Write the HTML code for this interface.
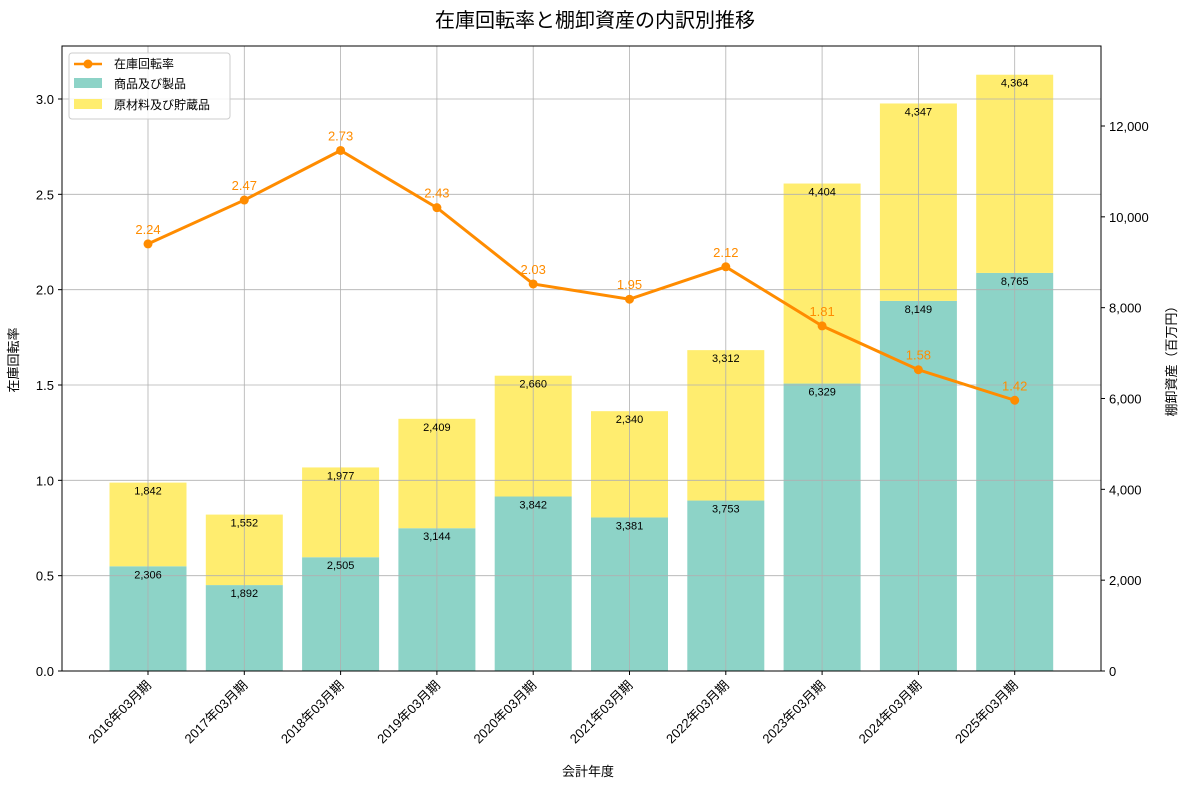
<!DOCTYPE html>
<html><head><meta charset="utf-8"><style>
body{margin:0;background:#fff;font-family:"Liberation Sans","Noto Sans CJK JP",sans-serif;}
svg text{font-family:"Liberation Sans","Noto Sans CJK JP",sans-serif;}
</style></head><body>
<svg id="chart" width="1189" height="789" xmlns="http://www.w3.org/2000/svg">
<text x="595" y="27" text-anchor="middle" font-size="20">在庫回転率と棚卸資産の内訳別推移</text>
<g id="grid"></g>
<g id="bars"></g>
<g id="gridtop"></g>
<g id="line"></g>
<g id="axes"></g>
<text transform="translate(18,360) rotate(-90)" text-anchor="middle" font-size="13">在庫回転率</text>
<text transform="translate(1176,358) rotate(-90)" text-anchor="middle" font-size="13">棚卸資産（百万円）</text>
<text x="588" y="776" text-anchor="middle" font-size="13">会計年度</text>
<g>
<rect x="69" y="53" width="161" height="66" rx="3" fill="#fff" fill-opacity="0.85" stroke="#ccc"/>
<g><line x1="74" y1="64" x2="102" y2="64" stroke="#ff8c00" stroke-width="2.5"/><circle cx="88" cy="64" r="4.5" fill="#ff8c00"/><text x="114" y="68" font-size="12">在庫回転率</text></g>
<g><rect x="74" y="78" width="28" height="10" fill="#8dd3c7"/><text x="114" y="88" font-size="12">商品及び製品</text></g>
<g><rect x="74" y="99" width="28" height="10" fill="#ffed6f"/><text x="114" y="109" font-size="12">原材料及び貯蔵品</text></g>
</g>
</svg>
<script>
const categories=["2016年03月期","2017年03月期","2018年03月期","2019年03月期","2020年03月期","2021年03月期","2022年03月期","2023年03月期","2024年03月期","2025年03月期"];
const goods=[2306,1892,2505,3144,3842,3381,3753,6329,8149,8765];
const materials=[1842,1552,1977,2409,2660,2340,3312,4404,4347,4364];
const turnover=[2.24,2.47,2.73,2.43,2.03,1.95,2.12,1.81,1.58,1.42];
const leftTicks=[0.0,0.5,1.0,1.5,2.0,2.5,3.0];
const rightTicks=[0,2000,4000,6000,8000,10000,12000];
const NS="http://www.w3.org/2000/svg";
const L=62,R=1101,T=46,B=671;
const x=i=>148+i*96.3;
const yL=v=>B-v*(572/3.0);
const yR=v=>B-v*(545/12000);
function mk(tag,attrs,parent,txt){const e=document.createElementNS(NS,tag);for(const k in attrs)e.setAttribute(k,attrs[k]);if(txt!==undefined)e.textContent=txt;document.getElementById(parent).appendChild(e);return e;}
const fmt=v=>v.toLocaleString('en-US');
const bw=77;
categories.forEach((c,i)=>{
  const g=mk('line',{x1:x(i),x2:x(i),y1:T,y2:B,stroke:'#b0b0b0','stroke-width':0.8},'gridtop');
  
  
  const b1=mk('rect',{x:x(i)-bw/2,y:yR(goods[i]),width:bw,height:B-yR(goods[i]),fill:'#8dd3c7'},'bars');
  
  
  const top=goods[i]+materials[i];
  const b2=mk('rect',{x:x(i)-bw/2,y:yR(top),width:bw,height:yR(goods[i])-yR(top),fill:'#ffed6f'},'bars');
  
  
  const t1=mk('text',{x:x(i),y:yR(goods[i])+12,'text-anchor':'middle','font-size':11},'line',fmt(goods[i]));
  
  
  const t2=mk('text',{x:x(i),y:yR(top)+12,'text-anchor':'middle','font-size':11},'line',fmt(materials[i]));
  
  
  const tl=mk('text',{'text-anchor':'end','font-size':13,transform:`translate(${x(i)+4},${B+15}) rotate(-45)`},'axes',c);
  
  
  const tk=mk('line',{x1:x(i),x2:x(i),y1:B,y2:B+4,stroke:'#000'},'axes');
  
  
});
leftTicks.forEach(v=>{
  const g=mk('line',{x1:L,x2:R,y1:yL(v),y2:yL(v),stroke:'#b0b0b0','stroke-width':0.8},'gridtop');
  
  
  const t=mk('text',{x:L-8,y:yL(v)+5,'text-anchor':'end','font-size':13},'axes',v.toFixed(1));
  
  
  const k=mk('line',{x1:L-4,x2:L,y1:yL(v),y2:yL(v),stroke:'#000'},'axes');
  
  
});
rightTicks.forEach(v=>{
  const t=mk('text',{x:R+8,y:yR(v)+5,'font-size':13},'axes',fmt(v));
  
  
  const k=mk('line',{x1:R,x2:R+4,y1:yR(v),y2:yR(v),stroke:'#000'},'axes');
  
  
});
const pts=turnover.map((v,i)=>x(i)+','+yL(v)).join(' ');
const pl=mk('polyline',{points:pts,fill:'none',stroke:'#ff8c00','stroke-width':3},'line');


turnover.forEach((v,i)=>{
  const c=mk('circle',{cx:x(i),cy:yL(v),r:4.5,fill:'#ff8c00'},'line');
  
  
  const t=mk('text',{x:x(i),y:yL(v)-10,'text-anchor':'middle','font-size':13,fill:'#ff8c00'},'line',v.toFixed(2));
  
  
});
const fr=mk('rect',{x:L,y:T,width:R-L,height:B-T,fill:'none',stroke:'#000','stroke-width':1},'axes');


</script>
</body></html>
